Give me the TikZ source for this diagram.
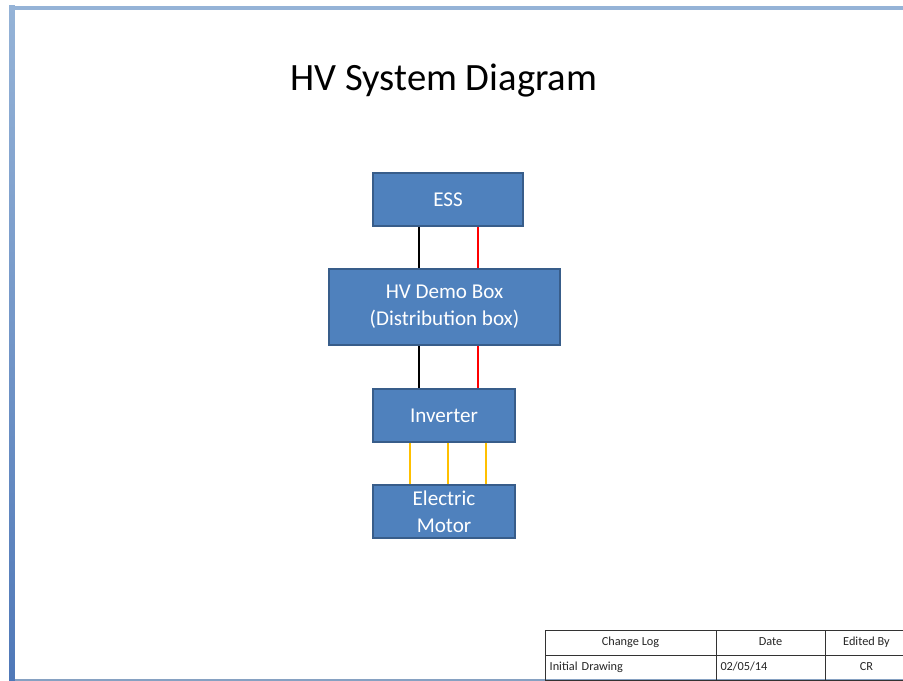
\documentclass[tikz,border=0pt]{standalone}
\usepackage{fontspec}
\setmainfont{Carlito}
\usetikzlibrary{positioning}

\definecolor{boxfill}{HTML}{4F81BD}
\definecolor{boxline}{HTML}{385D8A}
\definecolor{pagetop}{HTML}{95B3D7}
\definecolor{pagebot}{HTML}{4F78B8}
\definecolor{phase}{HTML}{FFC000}

\begin{document}
\begin{tikzpicture}[
  unit/.style={draw=boxline,line width=1pt,fill=boxfill,text=white,align=center,font=\fontsize{18}{23}\selectfont,inner sep=2pt},
  wire/.style={line width=1.6pt},
  cell/.style={draw=black!80,line width=0.8pt,minimum height=0.75cm,font=\fontsize{10.5}{12}\selectfont,inner sep=0pt,text height=1.5ex,text depth=0.4ex,text=black!85}
]
\useasboundingbox (0,0) rectangle (27.09,20.43);
% page edges
\fill[white] (0.45,0) rectangle (27.09,20.13);
\shade[top color=pagetop,bottom color=pagebot] (0.27,0) rectangle (0.45,20.25);
\fill[pagetop] (0.27,20.13) rectangle (27.09,20.25);
\fill[pagetop!90!black] (0.45,0) rectangle (27.09,0.05);

\node[font=\fontsize{33}{40}\selectfont,anchor=base] (title) at (13.32,17.72) {HV System Diagram};

\node[unit,minimum width=4.5cm,minimum height=1.59cm] (ess) at (13.44,14.445) {ESS};
\node[unit,minimum width=6.93cm,minimum height=2.28cm] (hv) at (13.335,11.22) {HV Demo Box\\(Distribution box)};
\node[unit,minimum width=4.26cm,minimum height=1.59cm] (inv) at (13.32,7.965) {Inverter};
\node[unit,minimum width=4.26cm,minimum height=1.59cm] (mot) at (13.32,5.085) {Electric\\Motor};

% wire positions
\coordinate (neg) at (12.57,0);
\coordinate (pos) at (14.34,0);
\coordinate (pu) at (12.30,0);
\coordinate (pv) at (13.44,0);
\coordinate (pw) at (14.58,0);

\draw[wire,black] (ess.south -| neg)--(hv.north -| neg);
\draw[wire,red] (ess.south -| pos)--(hv.north -| pos);
\draw[wire,black] (hv.south -| neg)--(inv.north -| neg);
\draw[wire,red] (hv.south -| pos)--(inv.north -| pos);
\draw[wire,phase] (inv.south -| pu)--(mot.north -| pu);
\draw[wire,phase] (inv.south -| pv)--(mot.north -| pv);
\draw[wire,phase] (inv.south -| pw)--(mot.north -| pw);

% change log
\node[cell,minimum width=5.13cm] (logh) at (18.915,1.155) {Change Log};
\node[cell,minimum width=3.27cm] (dateh) at (23.115,1.155) {Date};
\node[cell,minimum width=2.49cm] (edith) at (25.995,1.155) {Edited By};
\node[cell,minimum width=5.13cm,text width=4.85cm,align=left] (log1) at (18.915,0.405) {Initial Drawing};
\node[cell,minimum width=3.27cm,text width=3.0cm,align=left] (date1) at (23.115,0.405) {02/05/14};
\node[cell,minimum width=2.49cm] (edit1) at (25.995,0.405) {CR};
\end{tikzpicture}
\end{document}
